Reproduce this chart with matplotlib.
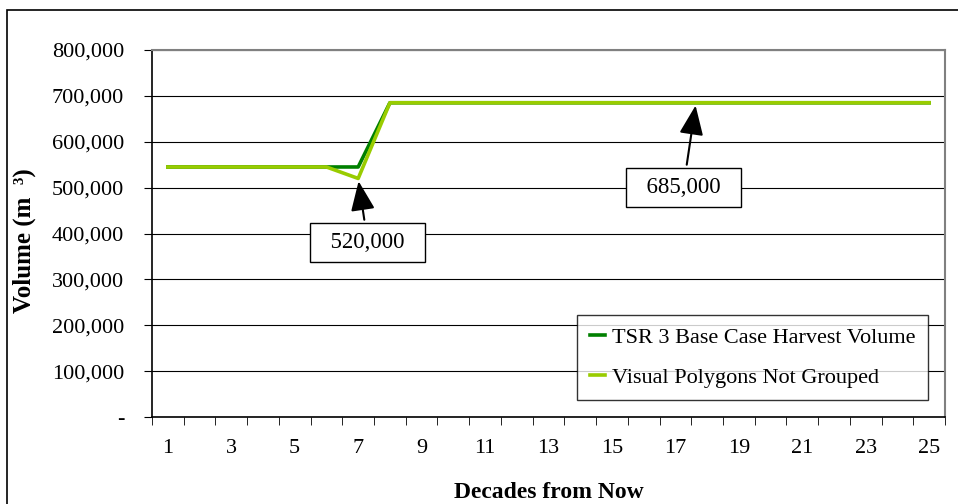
import matplotlib.pyplot as plt
from matplotlib.patches import Rectangle

plt.rcParams['font.family'] = ['Liberation Serif', 'DejaVu Serif']

# data
decades = list(range(1, 26))
tsr_base = [545000] * 7 + [685000] * 18
visual_not_grouped = [545000] * 6 + [520000] + [685000] * 18

y_ticks = [0, 100000, 200000, 300000, 400000, 500000, 600000, 700000, 800000]
y_tick_labels = ["-"] + [f"{v:,}" for v in y_ticks[1:]]
x_tick_labels = [str(d) for d in decades[::2]]

fig = plt.figure(figsize=(9.58, 5.04), dpi=100)
ax = fig.add_axes([152 / 958, 87 / 504, 793 / 958, 367 / 504])

# outer chart border
fig.patches.append(Rectangle((7 / 958, -0.05), 1.1, (494 / 504) + 0.05,
                             transform=fig.transFigure, fill=False,
                             edgecolor="black", linewidth=1.2))

ax.plot(decades, tsr_base, color="#008000", linewidth=2.6,
        label="TSR 3 Base Case Harvest Volume", zorder=3)
ax.plot(decades, visual_not_grouped, color="#99cc00", linewidth=2.6,
        label="Visual Polygons Not Grouped", zorder=4)

ax.set_xlim(0.5, 25.5)
ax.set_ylim(0, 800000)
ax.set_yticks(y_ticks)
ax.set_yticklabels(y_tick_labels, fontsize=16)
ax.set_xticks(decades[::2])
ax.set_xticklabels(x_tick_labels, fontsize=16)
ax.tick_params(axis="x", which="major", length=0, pad=16)
ax.set_xticks([d + 0.5 for d in range(0, 26)], minor=True)
ax.tick_params(axis="x", which="minor", length=6, direction="out")
ax.tick_params(axis="y", length=6, direction="out", pad=14)

ax.grid(axis="y", color="black", linewidth=0.8)
ax.set_axisbelow(True)
ax.spines["top"].set_color("#808080")
ax.spines["right"].set_color("#808080")
ax.spines["top"].set_linewidth(1.5)
ax.spines["right"].set_linewidth(1.5)
ax.spines["left"].set_linewidth(1.2)
ax.spines["bottom"].set_linewidth(1.2)

ax.set_xlabel("Decades from Now", fontsize=17, fontweight="bold", va="center")
ax.xaxis.set_label_coords(0.5, -0.206)
ax.set_ylabel("Volume (m  ³)", fontsize=18, fontweight="bold", va="center")
ax.yaxis.set_label_coords(-0.161, 0.48)

box = dict(boxstyle="square,pad=0.4", facecolor="white", edgecolor="black", linewidth=1)
arrow = dict(arrowstyle="-|>,head_length=1.1,head_width=0.45", color="black", linewidth=1.5)
ax.annotate("  520,000  ", xy=(7, 520000), xytext=(7.3, 380000), fontsize=16.5,
            ha="center", va="center", bbox=box, arrowprops=arrow, zorder=6)
ax.annotate("  685,000  ", xy=(17.65, 685000), xytext=(17.25, 500000), fontsize=16.5,
            ha="center", va="center", bbox=box, arrowprops=arrow, zorder=6)

leg = ax.legend(loc="lower right", bbox_to_anchor=(0.978, 0.045), fontsize=16,
                frameon=True, fancybox=False, edgecolor="black",
                handlelength=0.7, borderpad=0.55, labelspacing=0.9,
                handletextpad=0.3, borderaxespad=0.0)
leg.get_frame().set_linewidth(1.0)

fig.savefig("out.png", dpi=100)
